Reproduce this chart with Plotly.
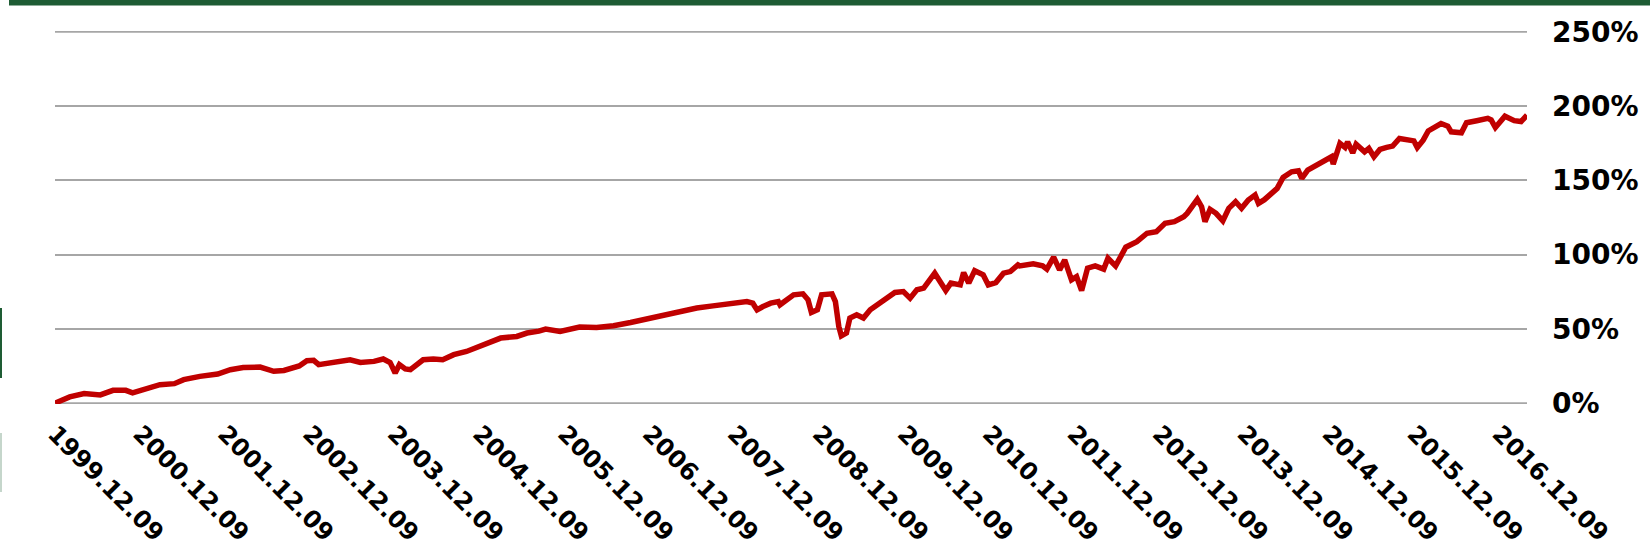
import pandas as pd
import plotly.graph_objects as go

# Positions along the time axis, read as decimal years
years = [
    1999.937, 2000.11, 2000.28, 2000.47, 2000.62, 2000.77, 2000.85, 2001.02, 2001.17, 2001.34,
    2001.45, 2001.64, 2001.85, 2002.00, 2002.15, 2002.35, 2002.51, 2002.63, 2002.81, 2002.90,
    2002.98, 2003.04, 2003.21, 2003.41, 2003.53, 2003.69, 2003.80, 2003.88, 2003.94, 2003.99,
    2004.06, 2004.12, 2004.27, 2004.39, 2004.50, 2004.63, 2004.78, 2004.94, 2005.05, 2005.18,
    2005.37, 2005.49, 2005.63, 2005.71, 2005.88, 2006.00, 2006.11, 2006.31, 2006.51, 2006.71,
    2006.90, 2007.09, 2007.30, 2007.49, 2007.68, 2007.88, 2008.08, 2008.15, 2008.20, 2008.27,
    2008.36, 2008.45, 2008.47, 2008.63, 2008.74, 2008.80, 2008.84, 2008.91, 2008.96, 2009.08,
    2009.12, 2009.16, 2009.19, 2009.25, 2009.29, 2009.37, 2009.45, 2009.53, 2009.68, 2009.82,
    2009.92, 2010.00, 2010.08, 2010.16, 2010.29, 2010.37, 2010.42, 2010.48, 2010.59, 2010.63,
    2010.69, 2010.76, 2010.86, 2010.92, 2011.01, 2011.10, 2011.18, 2011.27, 2011.29, 2011.45,
    2011.56, 2011.61, 2011.69, 2011.76, 2011.82, 2011.90, 2011.96, 2012.02, 2012.09, 2012.18,
    2012.28, 2012.33, 2012.42, 2012.54, 2012.67, 2012.79, 2012.90, 2013.00, 2013.11, 2013.22,
    2013.26, 2013.38, 2013.43, 2013.47, 2013.53, 2013.60, 2013.68, 2013.75, 2013.83, 2013.90,
    2013.98, 2014.06, 2014.10, 2014.17, 2014.23, 2014.32, 2014.39, 2014.49, 2014.57, 2014.61,
    2014.68, 2014.78, 2014.89, 2014.96, 2014.98, 2015.06, 2015.12, 2015.15, 2015.21, 2015.25,
    2015.35, 2015.40, 2015.46, 2015.53, 2015.61, 2015.68, 2015.76, 2015.86, 2015.93, 2015.97,
    2016.04, 2016.10, 2016.18, 2016.25, 2016.33, 2016.37, 2016.49, 2016.55, 2016.67, 2016.74,
    2016.80, 2016.84, 2016.89, 2017.00, 2017.11, 2017.19, 2017.26,
]

# Cumulative return (%)
returns = [
    0.0, 4.2, 6.4, 5.5, 8.6, 8.6, 6.9, 10.2, 12.4, 13.1,
    15.8, 18.0, 19.6, 22.5, 24.0, 24.3, 21.4, 22.0, 25.0, 28.6,
    28.8, 25.9, 27.4, 29.2, 27.4, 28.1, 29.7, 27.4, 20.3, 25.9,
    23.0, 22.5, 29.2, 29.7, 29.2, 32.6, 34.8, 38.6, 40.5, 43.8,
    44.9, 47.2, 48.5, 49.9, 48.3, 49.4, 51.2, 50.9, 52.1, 54.3,
    56.8, 58.8, 61.7, 64.0, 65.5, 67.3, 68.4, 67.3, 62.8, 65.0,
    67.3, 68.4, 66.2, 72.9, 73.6, 69.6, 61.0, 62.8, 72.9, 73.6,
    68.4, 51.6, 45.3, 47.2, 57.3, 59.5, 57.3, 62.8, 68.4, 74.5,
    75.1, 70.7, 76.3, 77.4, 87.5, 80.8, 75.8, 80.8, 79.6, 87.9,
    80.8, 89.2, 86.4, 79.6, 81.2, 87.5, 88.6, 93.1, 92.4, 93.8,
    92.4, 90.2, 98.3, 89.7, 96.4, 83.0, 85.2, 75.8, 90.9, 92.4,
    90.2, 97.6, 92.4, 105.0, 108.7, 114.4, 115.5, 121.1, 122.2, 125.5,
    127.8, 137.2, 132.3, 122.2, 130.5, 127.8, 122.8, 131.2, 135.6, 131.2,
    136.8, 140.1, 134.5, 137.0, 140.0, 144.6, 152.0, 155.8, 156.5, 151.3,
    156.9, 160.3, 163.6, 165.9, 161.0, 174.9, 172.2, 175.9, 168.5, 174.4,
    169.2, 171.5, 165.9, 170.8, 172.2, 173.1, 178.2, 177.1, 176.6, 172.2,
    177.1, 183.3, 185.6, 188.3, 186.5, 182.7, 182.0, 188.8, 190.2, 190.7,
    191.8, 190.7, 185.6, 193.2, 190.2, 189.6, 193.9,
]

tick_dates = [f"{y}-12-09" for y in range(1999, 2017)]
tick_labels = [f"{y}.12.09" for y in range(1999, 2017)]
y_ticks = [0, 50, 100, 150, 200, 250]


def to_date(y):
    base = int(y)
    return pd.Timestamp(year=base, month=1, day=1) + pd.Timedelta(days=(y - base) * 365.25)


dates = [to_date(y) for y in years]

W, H = 1650, 550
L, R, T, B = 55, 123, 31, 146
pw, ph = W - L - R, H - T - B


def px_x(p):
    return (p - L) / pw


def px_y(p):
    return (H - B - p) / ph


fig = go.Figure()
fig.add_trace(go.Scatter(
    x=dates, y=returns, mode="lines",
    line=dict(color="#C00000", width=5.5),
    hoverinfo="skip", showlegend=False,
))

grid_color = "#A6A6A6"
green = "#1E5C34"
shapes = [
    # gridlines at the two range edges (plotly omits them there)
    dict(type="line", xref="paper", yref="y", x0=0, x1=1, y0=y_ticks[0], y1=y_ticks[0],
         line=dict(color=grid_color, width=1.6), layer="below"),
    dict(type="line", xref="paper", yref="y", x0=0, x1=1, y0=y_ticks[-1], y1=y_ticks[-1],
         line=dict(color=grid_color, width=1.6), layer="below"),
    dict(type="rect", xref="paper", yref="paper", x0=px_x(9), x1=px_x(1652), y0=px_y(5.5), y1=px_y(-2),
         fillcolor=green, line=dict(width=0), layer="above"),
    dict(type="rect", xref="paper", yref="paper", x0=px_x(-2), x1=px_x(2), y0=px_y(378), y1=px_y(308),
         fillcolor=green, line=dict(width=0), layer="above"),
    dict(type="rect", xref="paper", yref="paper", x0=px_x(-2), x1=px_x(2), y0=px_y(492), y1=px_y(433),
         fillcolor="#C5D6CB", line=dict(width=0), layer="above"),
]

fig.update_layout(
    width=W, height=H,
    margin=dict(l=L, r=R, t=T, b=B, pad=0),
    paper_bgcolor="white", plot_bgcolor="white",
    shapes=shapes,
    xaxis=dict(
        type="date", automargin=False,
        range=[tick_dates[0], dates[-1]],
        tickmode="array", tickvals=tick_dates, ticktext=tick_labels,
        tickangle=45, showgrid=False, zeroline=False, showline=False, ticks="",
        ticklabelstandoff=10,
        tickfont=dict(family="DejaVu Sans", size=24, color="black", weight="bold"),
    ),
    yaxis=dict(
        side="right", automargin=False, range=[-0.6, 250.6],
        tickmode="array", tickvals=y_ticks, ticktext=[f"{v}%" for v in y_ticks],
        showgrid=True, gridcolor=grid_color, gridwidth=1.6,
        zeroline=False, showline=False, ticks="",
        ticklabelstandoff=24,
        tickfont=dict(family="DejaVu Sans", size=28, color="black", weight="bold"),
    ),
)

fig.write_html(
    "out.html",
    config={"displayModeBar": False},
    post_script="document.body.style.margin='0';document.body.style.overflow='hidden';",
)
